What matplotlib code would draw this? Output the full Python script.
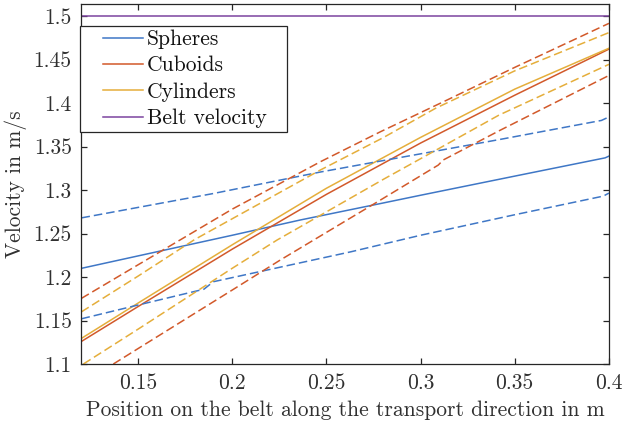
import matplotlib
matplotlib.use('Agg')
import matplotlib.pyplot as plt
from matplotlib.patches import Rectangle
from matplotlib.ticker import FormatStrFormatter

# mean velocity curves
x_spheres = [0.12, 0.2, 0.236, 0.2788, 0.3, 0.35, 0.398, 0.4]
v_spheres = [1.210, 1.248, 1.2655, 1.2845, 1.294, 1.316, 1.337, 1.339]
x_cuboids = [0.12, 0.15, 0.2, 0.25, 0.3, 0.35, 0.4]
v_cuboids = [1.126, 1.166, 1.232, 1.295, 1.354, 1.409, 1.462]
x_cylinders = [0.12, 0.15, 0.2, 0.25, 0.3, 0.35, 0.4]
v_cylinders = [1.1295, 1.170, 1.237, 1.302, 1.3605, 1.416, 1.463]
x_belt = [0.12, 0.4]
v_belt = [1.5, 1.5]

# upper / lower bounds (dashed)
x_spheres_up = [0.12, 0.15, 0.19, 0.2468, 0.2787, 0.3, 0.3425, 0.396, 0.4]
v_spheres_up = [1.268, 1.280, 1.296, 1.3207, 1.3333, 1.3416, 1.3583, 1.380, 1.384]
x_spheres_lo = [0.12, 0.15, 0.185, 0.19, 0.263, 0.3, 0.35, 0.397, 0.4]
v_spheres_lo = [1.152, 1.1678, 1.186, 1.1946, 1.229, 1.248, 1.2716, 1.293, 1.2965]
x_cuboids_up = [0.12, 0.15, 0.2, 0.2468, 0.2787, 0.314, 0.35, 0.4]
v_cuboids_up = [1.1755, 1.214, 1.278, 1.3325, 1.367, 1.4034, 1.441, 1.4916]
x_cuboids_lo = [0.1369, 0.15, 0.2, 0.2255, 0.2787, 0.3094, 0.312, 0.3425, 0.4]
v_cuboids_lo = [1.100, 1.1177, 1.185, 1.2195, 1.2885, 1.3287, 1.3345, 1.369, 1.4317]
x_cylinders_up = [0.12, 0.15, 0.18, 0.2468, 0.28, 0.308, 0.35, 0.4]
v_cylinders_up = [1.160, 1.201, 1.243, 1.323, 1.360, 1.394, 1.437, 1.481]
x_cylinders_lo = [0.121, 0.15, 0.2, 0.2238, 0.2805, 0.3, 0.3415, 0.4]
v_cylinders_lo = [1.100, 1.140, 1.210, 1.2425, 1.3126, 1.336, 1.386, 1.4445]

x_ticks = [0.15, 0.2, 0.25, 0.3, 0.35, 0.4]
y_ticks = [1.1, 1.15, 1.2, 1.25, 1.3, 1.35, 1.4, 1.45, 1.5]

c_blue = '#3f77c6'
c_red = '#d2592a'
c_yellow = '#e5ae3b'
c_purple = '#7c449f'
c_text = '#303030'

plt.rcParams['font.family'] = ['cmr10', 'DejaVu Serif']
plt.rcParams['mathtext.fontset'] = 'cm'
plt.rcParams['axes.unicode_minus'] = False
plt.rcParams['font.size'] = 15.5

fig = plt.figure(figsize=(6.22, 4.26), dpi=100)
ax = fig.add_axes([0.131, 0.1455, 0.848, 0.845])

lw = 1.1
dash = (5.6, 2.6)
ax.plot(x_spheres, v_spheres, color=c_blue, lw=lw, label='Spheres')
ax.plot(x_cuboids, v_cuboids, color=c_red, lw=lw, label='Cuboids')
ax.plot(x_cylinders, v_cylinders, color=c_yellow, lw=lw, label='Cylinders')
ax.plot(x_belt, v_belt, color=c_purple, lw=lw, label='Belt velocity')

ax.plot(x_spheres_up, v_spheres_up, color=c_blue, lw=lw, dashes=dash)
ax.plot(x_spheres_lo, v_spheres_lo, color=c_blue, lw=lw, dashes=dash)
ax.plot(x_cuboids_up, v_cuboids_up, color=c_red, lw=lw, dashes=dash)
ax.plot(x_cuboids_lo, v_cuboids_lo, color=c_red, lw=lw, dashes=dash)
ax.plot(x_cylinders_up, v_cylinders_up, color=c_yellow, lw=lw, dashes=dash)
ax.plot(x_cylinders_lo, v_cylinders_lo, color=c_yellow, lw=lw, dashes=dash)

ax.set_xlim(0.12, 0.4)
ax.set_ylim(1.1, 1.5138)
ax.set_xticks(x_ticks)
ax.set_yticks(y_ticks)
ax.xaxis.set_major_formatter(FormatStrFormatter('%g'))
ax.yaxis.set_major_formatter(FormatStrFormatter('%g'))
ax.tick_params(direction='in', top=True, right=True, length=4.5, width=0.9,
               colors='#262626', labelcolor=c_text, pad=7)
for sp in ax.spines.values():
    sp.set_color('#262626')
    sp.set_linewidth(0.9)

ax.set_xlabel('Position on the belt along the transport direction in m', color=c_text, labelpad=5)
ax.set_ylabel('Velocity in m/s', color=c_text, labelpad=5)

# matlab-like legend box: wider padding on the left than matplotlib gives
box = Rectangle((-0.002, 0.6444), 0.3915, 0.2945, transform=ax.transAxes,
                facecolor='white', edgecolor='#262626', linewidth=0.9,
                zorder=4.5, clip_on=False)
ax.add_patch(box)
leg = ax.legend(loc='upper left', bbox_to_anchor=(0.0406, 0.9292), borderaxespad=0,
                handlelength=1.86, handletextpad=0.19, labelspacing=0.32,
                borderpad=0, frameon=False)
for t in leg.get_texts():
    t.set_color('#111111')

fig.savefig('out.png', dpi=100)
